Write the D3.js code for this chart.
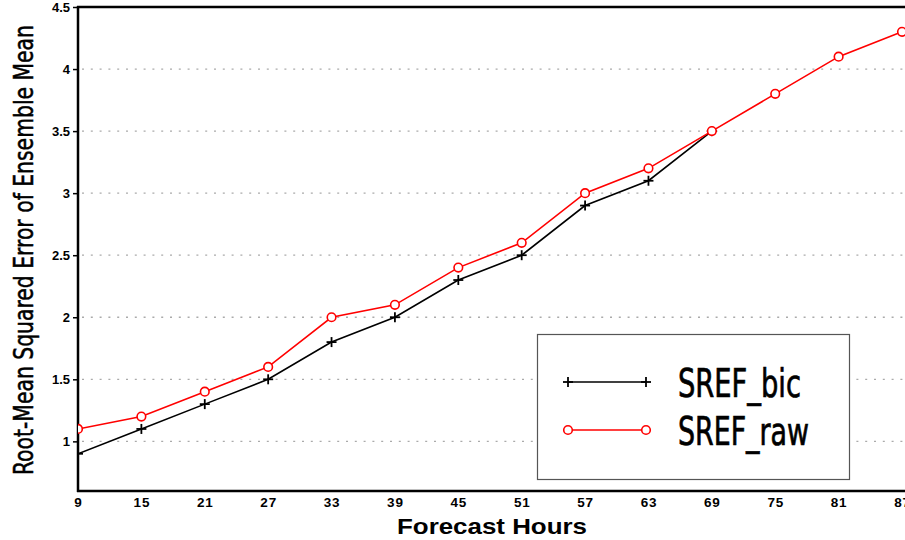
<!DOCTYPE html>
<html>
<head>
<meta charset="utf-8">
<script src="https://cdn.jsdelivr.net/npm/d3@7"></script>
<style>
  html, body { margin: 0; padding: 0; background: #fff; }
  svg { display: block; }
</style>
</head>
<body>
<svg id="chart" width="905" height="540"></svg>
<script>
// Forecast lead times (hours)
const hours = [9, 15, 21, 27, 33, 39, 45, 51, 57, 63, 69, 75, 81, 87];
// RMSE of ensemble mean, bias-corrected (runs to 69 h)
const srefBic = [0.9, 1.1, 1.3, 1.5, 1.8, 2.0, 2.3, 2.5, 2.9, 3.1, 3.5];
// RMSE of ensemble mean, raw
const srefRaw = [1.1, 1.2, 1.4, 1.6, 2.0, 2.1, 2.4, 2.6, 3.0, 3.2, 3.5, 3.8, 4.1, 4.3];
const yTicks = [1, 1.5, 2, 2.5, 3, 3.5, 4, 4.5];
const seriesNames = ["SREF_bic", "SREF_raw"];

const svg = d3.select("#chart");
const plotL = 78, plotR = 902, plotT = 7, plotB = 491;

const x = d3.scaleLinear().domain([9, 87]).range([plotL, plotR]);
const y = d3.scaleLinear().domain([0.6, 4.5]).range([plotB, plotT]);

svg.append("defs").append("clipPath").attr("id", "plotClip")
  .append("rect").attr("x", plotL).attr("y", plotT - 2)
  .attr("width", plotR - plotL + 10).attr("height", plotB - plotT + 2);

// dotted horizontal grid
svg.append("g").selectAll("line")
  .data(yTicks.filter(v => v < 4.5))
  .join("line")
  .attr("x1", plotL + 4).attr("x2", 905)
  .attr("y1", d => y(d)).attr("y2", d => y(d))
  .attr("stroke", "#aaa").attr("stroke-width", 1.3)
  .attr("stroke-dasharray", "2,6.8");

// y axis
const yAxis = d3.axisLeft(y).tickValues(yTicks).tickSize(5).tickPadding(3)
  .tickFormat(d => String(d));
const gy = svg.append("g").attr("transform", `translate(${plotL},0)`).call(yAxis);
gy.select(".domain").remove();
gy.selectAll(".tick line").attr("stroke", "#000").attr("stroke-width", 1.5);
gy.selectAll(".tick text")
  .attr("font-family", "Liberation Sans, Arial, sans-serif")
  .attr("font-weight", "bold").attr("font-size", 13).attr("fill", "#000");

// x axis
const xAxis = d3.axisBottom(x).tickValues(hours).tickSize(0).tickPadding(6)
  .tickFormat(d3.format("d"));
const gx = svg.append("g").attr("transform", `translate(0,${plotB})`).call(xAxis);
gx.select(".domain").remove();
gx.selectAll(".tick text")
  .attr("font-family", "Liberation Sans, Arial, sans-serif")
  .attr("font-weight", "bold").attr("font-size", 13.5).attr("letter-spacing", 0.8)
  .attr("fill", "#000");

// frame lines
svg.append("line").attr("x1", plotL).attr("x2", plotL).attr("y1", plotT - 1).attr("y2", plotB + 1)
  .attr("stroke", "#000").attr("stroke-width", 2.5);
svg.append("line").attr("x1", plotL - 1).attr("x2", 905).attr("y1", plotB).attr("y2", plotB)
  .attr("stroke", "#000").attr("stroke-width", 2.5);
svg.append("line").attr("x1", plotL - 1).attr("x2", 905).attr("y1", plotT).attr("y2", plotT)
  .attr("stroke", "#000").attr("stroke-width", 2.5);

const line = d3.line().x((d, i) => x(hours[i])).y(d => y(d));
const plot = svg.append("g").attr("clip-path", "url(#plotClip)");

// SREF_bic: black line with plus markers
plot.append("path").datum(srefBic).attr("d", line)
  .attr("fill", "none").attr("stroke", "#000").attr("stroke-width", 1.6);
const plus = (g, cx, cy) => {
  g.append("line").attr("x1", cx - 5).attr("x2", cx + 5).attr("y1", cy).attr("y2", cy)
    .attr("stroke", "#000").attr("stroke-width", 1.8);
  g.append("line").attr("x1", cx).attr("x2", cx).attr("y1", cy - 5).attr("y2", cy + 5)
    .attr("stroke", "#000").attr("stroke-width", 1.8);
};
srefBic.forEach((v, i) => plus(plot, x(hours[i]), y(v)));

// SREF_raw: red line with open circles
plot.append("path").datum(srefRaw).attr("d", line)
  .attr("fill", "none").attr("stroke", "#f00").attr("stroke-width", 1.6);
plot.selectAll("circle.raw").data(srefRaw).join("circle").attr("class", "raw")
  .attr("cx", (d, i) => x(hours[i])).attr("cy", d => y(d)).attr("r", 4.3)
  .attr("fill", "#fff").attr("stroke", "#f00").attr("stroke-width", 1.6);

// legend
const lg = svg.append("g");
lg.append("rect").attr("x", 537.5).attr("y", 334.5).attr("width", 312).attr("height", 145)
  .attr("fill", "#fff").attr("stroke", "#555").attr("stroke-width", 1.2);
const legendRows = [382, 430];
lg.append("line").attr("x1", 568).attr("x2", 646).attr("y1", legendRows[0]).attr("y2", legendRows[0])
  .attr("stroke", "#000").attr("stroke-width", 1.6);
plus(lg, 568, legendRows[0]); plus(lg, 646, legendRows[0]);
lg.append("line").attr("x1", 568).attr("x2", 646).attr("y1", legendRows[1]).attr("y2", legendRows[1])
  .attr("stroke", "#f00").attr("stroke-width", 1.6);
[568, 646].forEach(cx => lg.append("circle").attr("cx", cx).attr("cy", legendRows[1]).attr("r", 4.3)
  .attr("fill", "#fff").attr("stroke", "#f00").attr("stroke-width", 1.6));
lg.selectAll("text").data(seriesNames).join("text")
  .attr("x", 678).attr("y", (d, i) => legendRows[i] + 15)
  .attr("font-family", "Liberation Sans Narrow, DejaVu Sans Condensed, sans-serif")
  .attr("font-size", 39).attr("fill", "#000")
  .attr("stroke", "#000").attr("stroke-width", 0.7)
  .attr("textLength", (d, i) => i === 0 ? 123 : 131).attr("lengthAdjust", "spacingAndGlyphs")
  .text(d => d);

// axis titles
svg.append("text").attr("x", 492).attr("y", 534).attr("text-anchor", "middle")
  .attr("font-family", "Liberation Sans, Arial, sans-serif").attr("font-weight", "bold")
  .attr("font-size", 22).attr("textLength", 190).attr("lengthAdjust", "spacingAndGlyphs")
  .text("Forecast Hours");
svg.append("text").attr("transform", "translate(33,250) rotate(-90)").attr("text-anchor", "middle")
  .attr("font-family", "Liberation Sans Narrow, DejaVu Sans Condensed, sans-serif")
  .attr("font-size", 27).attr("stroke", "#000").attr("stroke-width", 0.5)
  .attr("textLength", 450).attr("lengthAdjust", "spacingAndGlyphs")
  .text("Root-Mean Squared Error of Ensemble Mean");
</script>
</body>
</html>
